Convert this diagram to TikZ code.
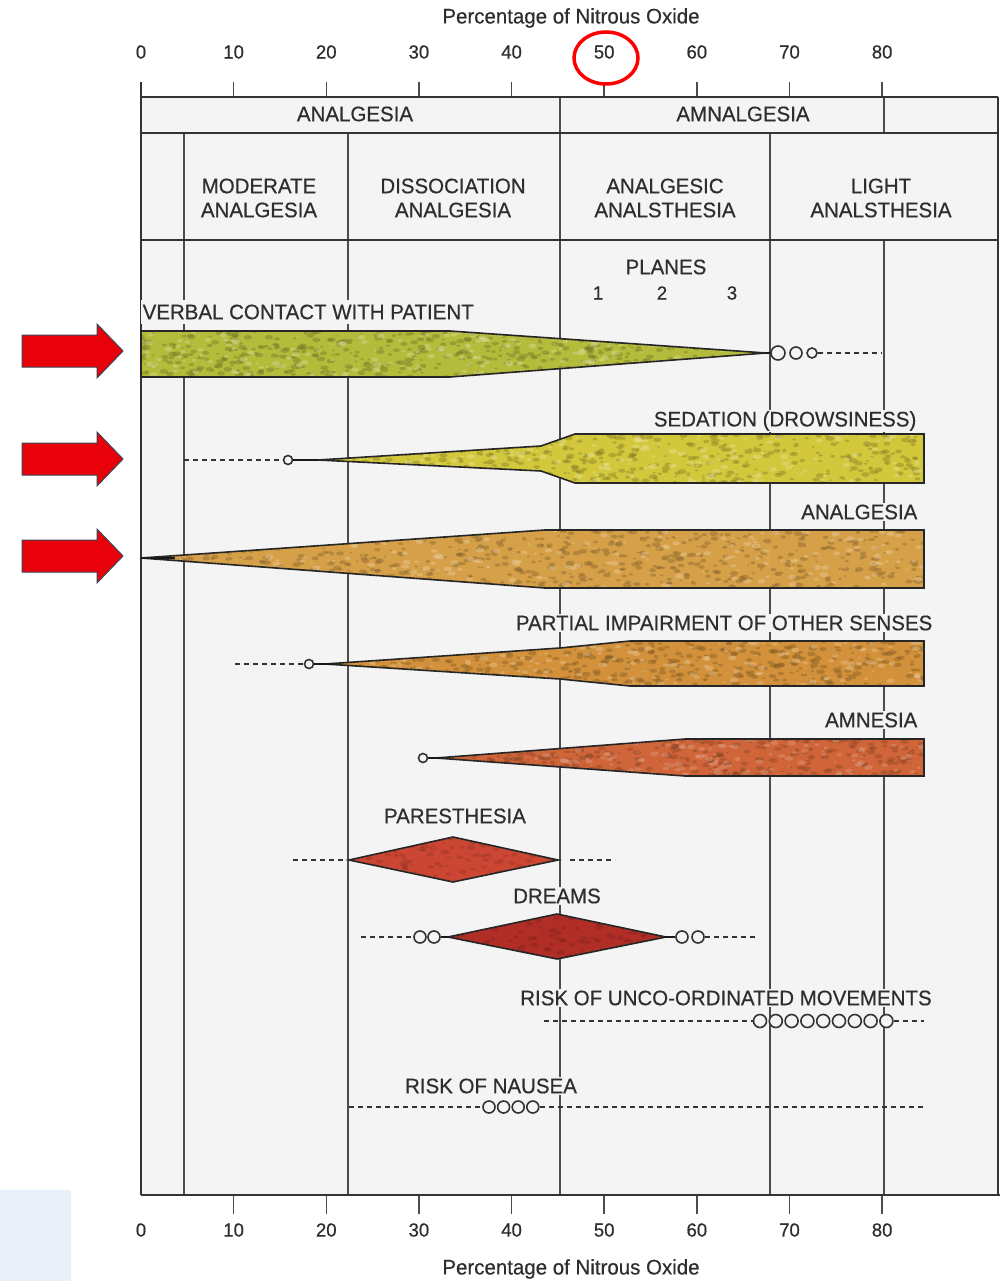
\documentclass[tikz,border=0pt]{standalone}
\usepackage{fontspec}
\setmainfont{Liberation Sans}
\newfontfamily\labfont{Liberation Sans}[FakeStretch=0.975, FakeBold=0.5]
\usetikzlibrary{shapes.geometric}
\definecolor{boxbg}{HTML}{F4F4F4}
\definecolor{txt}{HTML}{2E2E2E}
\definecolor{cverb}{HTML}{B5BC3C}
\definecolor{csed}{HTML}{D3C83C}
\definecolor{canal}{HTML}{D6A048}
\definecolor{cpart}{HTML}{D2913A}
\definecolor{camn}{HTML}{CF6538}
\definecolor{cpar}{HTML}{CC4634}
\definecolor{cdream}{HTML}{B02E26}
\definecolor{arrred}{HTML}{E8000B}
\definecolor{arredge}{HTML}{3B4655}
\definecolor{lblue}{HTML}{E8EFF8}
\newcommand\speckarea[6]{%
  \foreach \k in {1,...,#6}{%
    \pgfmathsetmacro\sx{#1+rnd*(#2-#1)}%
    \pgfmathsetmacro\sy{#3+rnd*(#4-#3)}%
    \pgfmathsetmacro\sr{0.8+rnd*1.7}%
    \pgfmathsetmacro\sxr{\sr*1.8}%
    \fill[#5] (\sx,\sy) ellipse [x radius=\sxr, y radius=\sr];}}
\newcommand\redarrow[1]{%
  \draw[fill=arrred, draw=arredge, line width=1pt]
    (22,#1-16) -- (97,#1-16) -- (97,#1-27) -- (123,#1) -- (97,#1+27) -- (97,#1+16) -- (22,#1+16) -- cycle;}
\begin{document}
\begin{tikzpicture}[x=1pt,y=-1pt,
  lab/.style={font=\labfont\fontsize{21}{24}\selectfont, text=txt, inner sep=1.5pt},
  num/.style={font=\labfont\fontsize{19}{20}\selectfont, text=txt, inner sep=0pt},
  knock/.style={fill=boxbg},
  frameln/.style={draw=black!80, line width=2pt},
  gridln/.style={draw=black!70, line width=1.2pt},
  outl/.style={draw=black!85, line width=1.6pt, line join=miter},
  dotln/.style={draw=black!80, line width=1.5pt, dash pattern=on 5pt off 4pt},
  tipln/.style={draw=black!90, line width=2.5pt},
  ring/.style={circle, draw=black!80, line width=1.6pt, fill=boxbg, inner sep=0pt, minimum size=11pt}]
\useasboundingbox (0,0) rectangle (1003,1281);
\fill[white] (0,0) rectangle (1003,1281);
\fill[lblue] (0,1190) rectangle (71,1281);
% box background
\fill[boxbg] (141,97) rectangle (998,1195);
% axes titles and numbers
\node[lab] (ttop) at (571,18) {Percentage of Nitrous Oxide};
\node[lab] (tbot) at (571,1269) {Percentage of Nitrous Oxide};
\foreach \v in {0,10,...,80}{
  \node[num] (nt\v) at ({141+\v*9.264},52) {\v};
  \node[num] (nb\v) at ({141+\v*9.264},1230) {\v};}
\foreach \v in {10,20,...,80}{
  \draw[gridln, line width=1.5pt] ({141+\v*9.264},82) -- ({141+\v*9.264},97);
  \draw[gridln, line width=1.5pt] ({141+\v*9.264},1195) -- ({141+\v*9.264},1214);}
% grid lines
\draw[gridln] (184,133) -- (184,1195);
\draw[gridln] (348,133) -- (348,1195);
\draw[gridln] (560,97) -- (560,1195);
\draw[gridln] (770,133) -- (770,1195);
\draw[gridln] (884,97) -- (884,133);
\draw[gridln] (884,240) -- (884,1195);
% frame
\draw[frameln] (141,82) -- (141,1195);
\draw[frameln] (998,97) -- (998,1195);
\draw[frameln, line width=2.6pt] (141,97) -- (998,97);
\draw[frameln] (141,133) -- (998,133);
\draw[frameln] (141,240) -- (998,240);
\draw[frameln, line width=2.6pt] (141,1195) -- (1000,1195);
% header labels
\node[lab] (h1a) at (355,114) {ANALGESIA};
\node[lab] (h1b) at (743,114) {AMNALGESIA};
\node[lab, align=center] (h2a) at (259,198) {MODERATE\\ANALGESIA};
\node[lab, align=center] (h2b) at (453,198) {DISSOCIATION\\ANALGESIA};
\node[lab, align=center] (h2c) at (665,198) {ANALGESIC\\ANALSTHESIA};
\node[lab, align=center] (h2d) at (881,198) {LIGHT\\ANALSTHESIA};
\node[lab, knock] (planes) at (666,267) {PLANES};
\node[num] (pl1) at (598,293) {1};
\node[num] (pl2) at (662,293) {2};
\node[num] (pl3) at (732,293) {3};
% ---- shapes
\pgfmathsetseed{7}
\def\pverb{(141,331) -- (450,331) -- (766,353) -- (450,377) -- (141,377) -- cycle}
\def\psed{(318,460) -- (541,446) -- (575,434) -- (924,434) -- (924,483) -- (575,483) -- (541,471) -- cycle}
\def\panal{(141,558) -- (545,530) -- (924,530) -- (924,588) -- (545,588) -- cycle}
\def\ppart{(325,664) -- (560,648) -- (630,641) -- (924,641) -- (924,686) -- (630,686) -- (560,679) -- cycle}
\def\pamn{(436,758) -- (685,739) -- (924,739) -- (924,776) -- (685,776) -- cycle}
\def\ppar{(349,860) -- (453,837) -- (558,860) -- (453,882) -- cycle}
\def\pdream{(448,937) -- (557,914) -- (666,937) -- (557,959) -- cycle}
\fill[cverb] \pverb;
\begin{scope}\clip \pverb; \speckarea{141}{766}{331}{377}{cverb!65!black, opacity=0.45}{520}\speckarea{141}{766}{331}{377}{cverb!60!white, opacity=0.5}{220}\end{scope}
\draw[outl] \pverb;
\fill[csed] \psed;
\begin{scope}\clip \psed; \speckarea{318}{924}{434}{483}{csed!65!black, opacity=0.45}{480}\speckarea{318}{924}{434}{483}{csed!60!white, opacity=0.5}{200}\end{scope}
\draw[outl] \psed;
\fill[canal] \panal;
\begin{scope}\clip \panal; \speckarea{141}{924}{530}{588}{canal!65!black, opacity=0.45}{600}\speckarea{141}{924}{530}{588}{canal!60!white, opacity=0.5}{240}\end{scope}
\draw[outl] \panal;
\fill[cpart] \ppart;
\begin{scope}\clip \ppart; \speckarea{325}{924}{641}{686}{cpart!65!black, opacity=0.45}{480}\speckarea{325}{924}{641}{686}{cpart!60!white, opacity=0.5}{200}\end{scope}
\draw[outl] \ppart;
\fill[camn] \pamn;
\begin{scope}\clip \pamn; \speckarea{436}{924}{739}{776}{camn!65!black, opacity=0.4}{340}\speckarea{436}{924}{739}{776}{camn!60!white, opacity=0.4}{150}\end{scope}
\draw[outl] \pamn;
\fill[cpar] \ppar;
\begin{scope}\clip \ppar; \speckarea{349}{558}{837}{882}{cpar!70!black, opacity=0.35}{150}\end{scope}
\draw[outl] \ppar;
\fill[cdream] \pdream;
\begin{scope}\clip \pdream; \speckarea{448}{666}{914}{959}{cdream!70!black, opacity=0.35}{150}\end{scope}
\draw[outl] \pdream;
% ---- verbal contact
\node[lab, knock, anchor=west, inner ysep=5pt] (lverb) at (141,312) {VERBAL CONTACT WITH PATIENT};
\coordinate (vtip) at (766,353);
\node[ring, minimum size=14pt] (v1) at (778,353) {};
\node[ring, minimum size=12pt] (v2) at (796,353) {};
\node[ring, minimum size=10pt] (v3) at (812,353) {};
\coordinate (vend) at (882,353);
\draw[tipln] (vtip) -- (v1.west);
\draw[dotln] (v3.east) -- (vend);
% ---- sedation
\node[lab, knock, anchor=east] (lsed) at (918,421) {SEDATION (DROWSINESS)};
\coordinate (sstart) at (184,460);
\node[ring, minimum size=9pt] (s1) at (288,460) {};
\coordinate (stip) at (318,460);
\draw[dotln] (sstart) -- (s1.west);
\draw[tipln] (s1.east) -- (stip);
% ---- analgesia
\node[lab, knock, anchor=east] (lanal) at (919,512) {ANALGESIA};
\coordinate (atip) at (141,558);
\coordinate (atipb) at (175,558);
\draw[tipln] (atip) -- (atipb);
% ---- partial impairment
\node[lab, knock, anchor=east] (lpart) at (934,623) {PARTIAL IMPAIRMENT OF OTHER SENSES};
\coordinate (pstart) at (235,664);
\node[ring, minimum size=9pt] (p1) at (309,664) {};
\coordinate (ptip) at (335,664);
\draw[dotln] (pstart) -- (p1.west);
\draw[tipln] (p1.east) -- (ptip);
% ---- amnesia
\node[lab, knock, anchor=east] (lamn) at (919,720) {AMNESIA};
\node[ring, minimum size=9pt] (m1) at (423,758) {};
\coordinate (mtip) at (442,758);
\draw[tipln] (m1.east) -- (mtip);
% ---- paresthesia
\node[lab, knock] (lpar) at (455,816) {PARESTHESIA};
\coordinate (parl1) at (293,860);
\coordinate (parl2) at (345,860);
\coordinate (parr1) at (570,860);
\coordinate (parr2) at (615,860);
\draw[dotln] (parl1) -- (parl2);
\draw[dotln] (parr1) -- (parr2);
% ---- dreams
\node[lab, knock] (ldream) at (557,896) {DREAMS};
\coordinate (dl0) at (361,937);
\node[ring, minimum size=12pt] (dl1) at (420,937) {};
\node[ring, minimum size=12pt] (dl2) at (434,937) {};
\coordinate (dtipl) at (450,937);
\draw[dotln] (dl0) -- (dl1.west);
\draw[tipln, line width=1.6pt] (dl2.east) -- (dtipl);
\coordinate (dtipr) at (664,937);
\node[ring, minimum size=12pt] (dr1) at (682,937) {};
\node[ring, minimum size=12pt] (dr2) at (698,937) {};
\coordinate (dr3) at (757,937);
\draw[tipln, line width=1.6pt] (dtipr) -- (dr1.west);
\draw[dotln] (dr2.east) -- (dr3);
% ---- unco-ordinated movements
\node[lab, knock] (lunco) at (726,998) {RISK OF UNCO-ORDINATED MOVEMENTS};
\coordinate (u0) at (544,1021);
\foreach \i in {0,...,8}{\node[ring, minimum size=13pt] (u\i c) at ({760+\i*15.8},1021) {};}
\coordinate (uend) at (924,1021);
\draw[dotln] (u0) -- (u0c.west);
\draw[dotln] (u8c.east) -- (uend);
% ---- nausea
\node[lab, knock] (lnau) at (491,1086) {RISK OF NAUSEA};
\coordinate (n0) at (349,1107);
\foreach \i in {0,...,3}{\node[ring, minimum size=12pt] (n\i c) at ({489+\i*14.6},1107) {};}
\coordinate (nend) at (924,1107);
\draw[dotln] (n0) -- (n0c.west);
\draw[dotln] (n3c.east) -- (nend);
% ---- annotations
\node[draw=red, ellipse, line width=3.5pt, minimum width=64pt, minimum height=52pt, inner sep=0pt] (mark50) at (606,58) {};
\redarrow{351}
\redarrow{459}
\redarrow{556}
\end{tikzpicture}
\end{document}
